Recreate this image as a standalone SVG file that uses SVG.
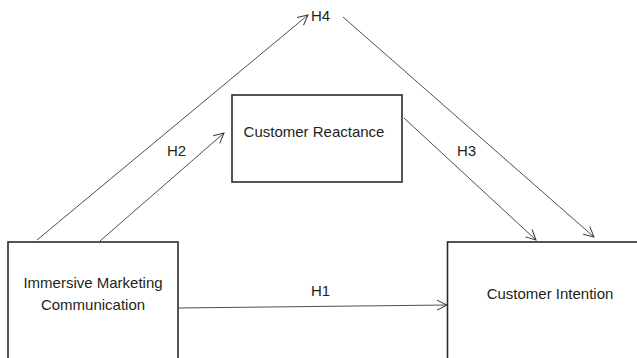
<svg xmlns="http://www.w3.org/2000/svg" width="637" height="358" viewBox="0 0 637 358">
<style>
.box{fill:#fff;stroke:#2b2b2b;stroke-width:1.6}
.ln{fill:none;stroke:#3a3a3a;stroke-width:0.9}
.t{font-family:"Liberation Sans",Arial,sans-serif;font-size:15px;fill:#231f20;text-anchor:middle}
.lb{font-family:"Liberation Sans",Arial,sans-serif;font-size:15px;fill:#231f20}
</style>
<defs>
<marker id="ah" viewBox="0 0 12 12" refX="11" refY="6" markerWidth="12" markerHeight="12" markerUnits="userSpaceOnUse" orient="auto">
<path d="M1,1 L11,6 L1,11" fill="none" stroke="#3a3a3a" stroke-width="1"/>
</marker>
</defs>
<g id="connectors">
<line class="ln" x1="37" y1="240" x2="308" y2="15" marker-end="url(#ah)"/>
<line class="ln" x1="343" y1="17" x2="594" y2="237" marker-end="url(#ah)"/>
<line class="ln" x1="100" y1="241" x2="224" y2="133" marker-end="url(#ah)"/>
<line class="ln" x1="404" y1="118" x2="536" y2="240" marker-end="url(#ah)"/>
<line class="ln" x1="178" y1="308" x2="447" y2="305" marker-end="url(#ah)"/>
<text class="lb" x="311" y="21">H4</text>
<text class="lb" x="167" y="156">H2</text>
<text class="lb" x="457" y="156">H3</text>
<text class="lb" x="311" y="296">H1</text>
</g>
<g id="imc">
<rect class="box" x="8" y="242" width="170" height="130"/>
<text class="t" x="93" y="288">Immersive Marketing</text>
<text class="t" x="93" y="310">Communication</text>
</g>
<g id="cr">
<rect class="box" x="232" y="95" width="170" height="87"/>
<text class="t" x="314" y="137">Customer Reactance</text>
</g>
<g id="ci">
<rect class="box" x="447.5" y="242" width="200" height="130"/>
<text class="t" x="550" y="299">Customer Intention</text>
</g>
</svg>
